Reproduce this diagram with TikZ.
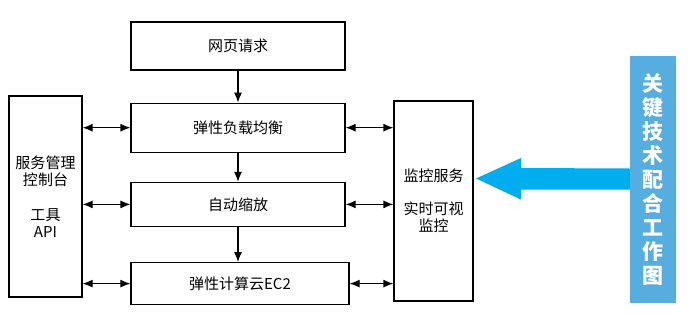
\documentclass[tikz,border=0pt]{standalone}
\usepackage{fontspec}
\newfontfamily\cjk{Noto Sans CJK SC}
\usetikzlibrary{positioning, calc, arrows.meta}
\definecolor{arrowblue}{HTML}{00AEEF}
\definecolor{barblue}{HTML}{56ADE0}

\begin{document}
\begin{tikzpicture}[
		x=1pt, y=1pt,
		box/.style={draw, rectangle, align=center, line width=1.2pt, inner sep=2pt,
				font=\cjk\fontsize{15}{17}\selectfont, minimum width=214pt},
		arr/.style={-{Latex[length=10pt,width=8pt]}, line width=1.2pt},
		dblarr/.style={{Latex[length=10pt,width=8pt]}-{Latex[length=10pt,width=8pt]}, line width=1.2pt},
	]
	\useasboundingbox (0,0) rectangle (693,-319);

	% main column
	\node[box, minimum height=48pt] (req) at (238,-46) {网页请求};
	\node[box, minimum height=49pt, below=32pt of req] (elb) {弹性负载均衡};
	\node[box, minimum height=44pt, below=29pt of elb] (scale) {自动缩放};
	\node[box, minimum height=42pt, minimum width=218pt, below=35pt of scale, xshift=2pt] (ec2) {弹性计算云EC2};

	% side boxes
	\node[box, minimum width=73pt, minimum height=201pt] (console) at (45.5,-196.5)
	{服务管理\\控制台\\[18pt]工具\\API};
	\node[box, minimum width=79pt, minimum height=200pt] (monitor) at (433.5,-201)
	{监控服务\\[16pt]实时可视\\监控};

	% key technology bar
	\node[fill=barblue, minimum width=46pt, minimum height=247pt, align=center,
		text=white, font=\cjk\fontsize{21}{24}\selectfont\bfseries] (keybar) at (653,-179.5)
	{关\\键\\技\\术\\配\\合\\工\\作\\图};

	% column arrows
	\draw[arr] (req) -- (elb);
	\draw[arr] (elb) -- (elb.south |- scale.north);
	\draw[arr] (scale) -- (scale.south |- ec2.north);

	% console <-> column
	\draw[dblarr] (console.east |- elb.west)   -- (elb.west);
	\draw[dblarr] (console.east |- scale.west) -- (scale.west);
	\draw[dblarr] (console.east |- ec2.west)   -- (ec2.west);

	% column <-> monitor
	\draw[dblarr] (elb.east)   -- (monitor.west |- elb.east);
	\draw[dblarr] (scale.east) -- (monitor.west |- scale.east);
	\draw[dblarr] (ec2.east)   -- (monitor.west |- ec2.east);

	% big blue arrow
	\coordinate (tip) at (476,-178.5);
	\fill[arrowblue] (tip) -- ++(45,20.5) -- ++(0,-10) -- (keybar.west |- 0,-168.5)
	-- (keybar.west |- 0,-189.5) -- ++(-109,0) -- ++(0,-10) -- cycle;
\end{tikzpicture}
\end{document}
